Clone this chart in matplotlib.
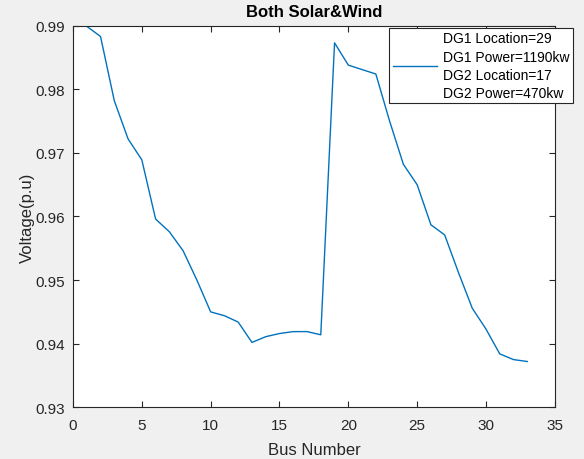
import numpy as np
import matplotlib
matplotlib.use("Agg")
import matplotlib.pyplot as plt

plt.rcParams.update({"font.family": ["Liberation Sans", "DejaVu Sans"], "font.size": 10})

bus = np.arange(1, 34)
voltage = [0.9899, 0.9883, 0.9782, 0.9722, 0.9689, 0.9596, 0.9576, 0.9546, 0.9500, 0.9450,
           0.9444, 0.9434, 0.9402, 0.9411, 0.9416, 0.9419, 0.9419, 0.9414, 0.9873, 0.9838,
           0.9831, 0.9824, 0.9750, 0.9682, 0.9650, 0.9587, 0.9571, 0.9512, 0.9456, 0.9423,
           0.9384, 0.9375, 0.9372]
legend_text = "DG1 Location=29\nDG1 Power=1190kw\nDG2 Location=17\nDG2 Power=470kw"

fig = plt.figure(figsize=(5.84, 4.6), dpi=100, facecolor="#f0f0f0")
ax = fig.add_axes([0.125, 0.1124, 0.825, 0.8296])
ax.plot(bus, voltage, color="#0072BD", linewidth=1.0, label=legend_text)
ax.set_xlim(0, 35)
ax.set_ylim(0.93, 0.99)
ax.set_xticks(np.arange(0, 36, 5))
ax.set_yticks(np.arange(0.93, 0.9901, 0.01))
ax.set_yticklabels(["0.93", "0.94", "0.95", "0.96", "0.97", "0.98", "0.99"])
for s in ax.spines.values():
    s.set_color("#262626")
    s.set_linewidth(0.8)
ax.tick_params(direction="in", top=True, right=True, colors="#262626", length=4)
ax.tick_params(axis="x", labelsize=11, pad=8)
ax.tick_params(axis="y", labelsize=11, pad=6)
ax.set_title("Both Solar&Wind", fontsize=12, fontweight="bold", pad=7)
ax.set_xlabel("Bus Number", fontsize=12, color="#262626", labelpad=7)
ax.set_ylabel("Voltage(p.u)", fontsize=12, color="#262626", labelpad=0)

leg = ax.legend(loc="upper right", bbox_to_anchor=(0.981, 0.937), bbox_transform=fig.transFigure,
                borderaxespad=0, fancybox=False, framealpha=1, edgecolor="#262626", fontsize=10,
                handlelength=3.2, borderpad=0.25, handletextpad=0.4)
leg.get_frame().set_linewidth(0.8)
for t in leg.get_texts():
    t.set_linespacing(1.38)

fig.savefig("out.png", dpi=100, facecolor=fig.get_facecolor())
